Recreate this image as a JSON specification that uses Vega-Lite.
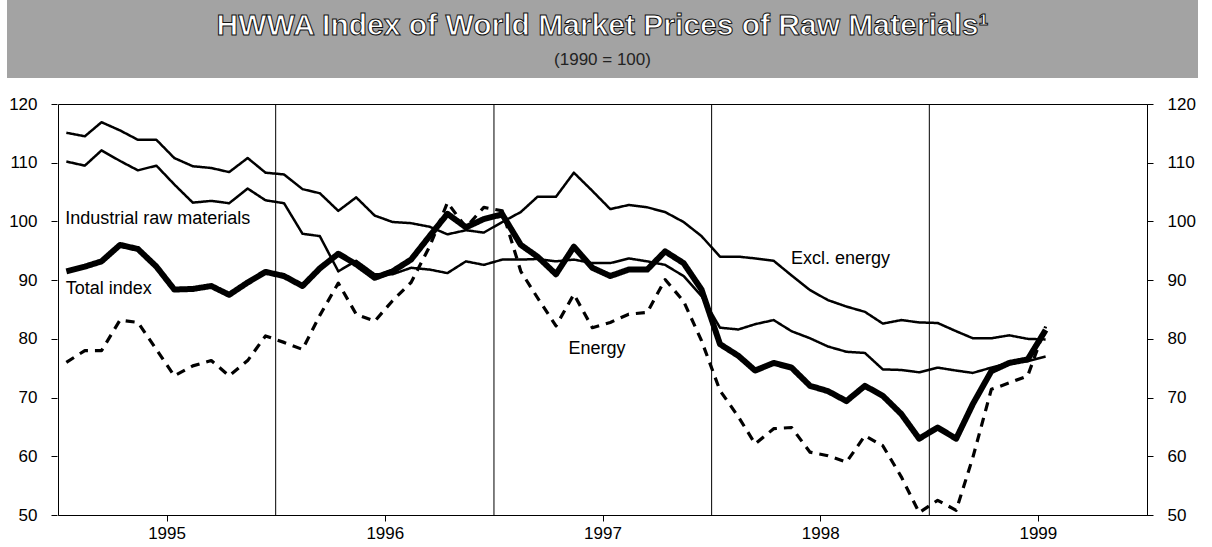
{
  "$schema": "https://vega.github.io/schema/vega-lite/v6.json",
  "padding": {"left": 7, "top": 0, "right": 4, "bottom": 0},
  "background": "white",
  "spacing": 16,
  "config": {
    "font": "Liberation Sans",
    "view": {"stroke": "black", "strokeWidth": 1},
    "axis": {
      "domainColor": "black", "tickColor": "black", "labelColor": "black",
      "labelFont": "Liberation Sans", "labelFontSize": 17, "tickSize": 6,
      "grid": false
    }
  },
  "vconcat": [
    {
      "width": 1191,
      "height": 78,
      "view": {"fill": "#a3a3a3", "stroke": null},
      "data": {"values": [{"title": "HWWA Index of World Market Prices of Raw Materials¹", "sub": "(1990 = 100)"}]},
      "layer": [
        {
          "mark": {"type": "text", "fontSize": 30, "fontWeight": "bold", "fill": "white", "stroke": "#111", "strokeWidth": 1, "dy": -13, "baseline": "middle"},
          "encoding": {"text": {"field": "title"}}
        },
        {
          "mark": {"type": "text", "fontSize": 17, "fill": "#222", "dy": 21, "baseline": "middle"},
          "encoding": {"text": {"field": "sub"}}
        }
      ]
    },
    {
      "spacing": -3,
      "hconcat": [
        {
          "width": 50,
          "height": 411,
          "view": {"stroke": null},
          "data": {"values": [{"v": 50}, {"v": 120}]},
          "mark": {"type": "point", "opacity": 0},
          "encoding": {
            "y": {"field": "v", "type": "quantitative", "title": null,
                  "scale": {"domain": [50, 120], "nice": false, "zero": false},
                  "axis": {"orient": "left", "offset": -50, "domain": false, "values": [50, 60, 70, 80, 90, 100, 110, 120], "labelPadding": 14}}
          }
        },
        {
          "width": 1089,
          "height": 411,
          "layer": [
            {
              "data": {"values": [{"d": "1996-01-01"}, {"d": "1997-01-01"}, {"d": "1998-01-01"}, {"d": "1999-01-01"}]},
              "mark": {"type": "rule", "color": "black", "strokeWidth": 1},
              "encoding": {
                "x": {"field": "d", "type": "temporal", "title": null,
                      "scale": {"type": "utc", "domain": [{"year": 1995, "month": 1, "date": 1, "utc": true}, {"year": 2000, "month": 1, "date": 1, "utc": true}]},
                      "axis": {
                        "values": [
                          {"year": 1995, "month": 7, "date": 2, "utc": true},
                          {"year": 1996, "month": 7, "date": 2, "utc": true},
                          {"year": 1997, "month": 7, "date": 2, "utc": true},
                          {"year": 1998, "month": 7, "date": 2, "utc": true},
                          {"year": 1999, "month": 7, "date": 2, "utc": true}
                        ],
                        "labelExpr": "utcFormat(datum.value, '%Y')",
                        "labelPadding": 4, "labelFlush": false, "labelOverlap": false
                      }}
              }
            },
            {
              "data": {"values": [
                {"d": "1995-01-15", "T": 91.5, "E": 115.1, "I": 110.2, "N": 76.0},
                {"d": "1995-02-15", "T": 92.3, "E": 114.5, "I": 109.5, "N": 78.0},
                {"d": "1995-03-15", "T": 93.2, "E": 116.9, "I": 112.1, "N": 78.0},
                {"d": "1995-04-15", "T": 96.0, "E": 115.5, "I": 110.3, "N": 83.2},
                {"d": "1995-05-15", "T": 95.3, "E": 113.9, "I": 108.7, "N": 82.8},
                {"d": "1995-06-15", "T": 92.3, "E": 113.9, "I": 109.5, "N": 78.2},
                {"d": "1995-07-15", "T": 88.4, "E": 110.8, "I": 106.3, "N": 73.7},
                {"d": "1995-08-15", "T": 88.5, "E": 109.4, "I": 103.2, "N": 75.4},
                {"d": "1995-09-15", "T": 89.0, "E": 109.1, "I": 103.5, "N": 76.3},
                {"d": "1995-10-15", "T": 87.5, "E": 108.4, "I": 103.1, "N": 73.7},
                {"d": "1995-11-15", "T": 89.6, "E": 110.8, "I": 105.6, "N": 76.3},
                {"d": "1995-12-15", "T": 91.4, "E": 108.3, "I": 103.6, "N": 80.5},
                {"d": "1996-01-15", "T": 90.7, "E": 108.0, "I": 103.1, "N": 79.4},
                {"d": "1996-02-15", "T": 89.0, "E": 105.5, "I": 97.9, "N": 78.2},
                {"d": "1996-03-15", "T": 92.0, "E": 104.8, "I": 97.5, "N": 84.0},
                {"d": "1996-04-15", "T": 94.5, "E": 101.8, "I": 91.5, "N": 89.5},
                {"d": "1996-05-15", "T": 92.7, "E": 104.1, "I": 93.3, "N": 84.2},
                {"d": "1996-06-15", "T": 90.4, "E": 101.0, "I": 91.0, "N": 83.0},
                {"d": "1996-07-15", "T": 91.5, "E": 99.9, "I": 91.0, "N": 86.5},
                {"d": "1996-08-15", "T": 93.5, "E": 99.7, "I": 92.1, "N": 89.6},
                {"d": "1996-09-15", "T": 97.5, "E": 99.1, "I": 91.8, "N": 95.7},
                {"d": "1996-10-15", "T": 101.3, "E": 97.8, "I": 91.2, "N": 103.2},
                {"d": "1996-11-15", "T": 99.0, "E": 98.5, "I": 93.2, "N": 99.0},
                {"d": "1996-12-15", "T": 100.4, "E": 98.1, "I": 92.6, "N": 102.4},
                {"d": "1997-01-15", "T": 101.2, "E": 99.9, "I": 93.5, "N": 101.8},
                {"d": "1997-02-15", "T": 96.0, "E": 101.6, "I": 93.5, "N": 91.5},
                {"d": "1997-03-15", "T": 94.0, "E": 104.2, "I": 93.6, "N": 87.0},
                {"d": "1997-04-15", "T": 91.0, "E": 104.2, "I": 93.2, "N": 82.2},
                {"d": "1997-05-15", "T": 95.7, "E": 108.3, "I": 93.5, "N": 87.6},
                {"d": "1997-06-15", "T": 92.1, "E": 105.2, "I": 92.9, "N": 81.9},
                {"d": "1997-07-15", "T": 90.7, "E": 102.1, "I": 92.9, "N": 82.8},
                {"d": "1997-08-15", "T": 91.8, "E": 102.8, "I": 93.7, "N": 84.2},
                {"d": "1997-09-15", "T": 91.8, "E": 102.4, "I": 93.2, "N": 84.5},
                {"d": "1997-10-15", "T": 94.9, "E": 101.6, "I": 92.6, "N": 90.1},
                {"d": "1997-11-15", "T": 92.9, "E": 99.9, "I": 90.7, "N": 86.4},
                {"d": "1997-12-15", "T": 88.4, "E": 97.5, "I": 87.3, "N": 79.7},
                {"d": "1998-01-15", "T": 79.1, "E": 94.0, "I": 81.9, "N": 71.2},
                {"d": "1998-02-15", "T": 77.1, "E": 94.0, "I": 81.6, "N": 66.7},
                {"d": "1998-03-15", "T": 74.6, "E": 93.7, "I": 82.5, "N": 62.1},
                {"d": "1998-04-15", "T": 75.9, "E": 93.3, "I": 83.2, "N": 64.7},
                {"d": "1998-05-15", "T": 75.1, "E": 90.8, "I": 81.3, "N": 64.9},
                {"d": "1998-06-15", "T": 72.0, "E": 88.3, "I": 80.1, "N": 60.7},
                {"d": "1998-07-15", "T": 71.1, "E": 86.6, "I": 78.7, "N": 60.1},
                {"d": "1998-08-15", "T": 69.4, "E": 85.5, "I": 77.8, "N": 59.0},
                {"d": "1998-09-15", "T": 72.0, "E": 84.6, "I": 77.6, "N": 63.5},
                {"d": "1998-10-15", "T": 70.3, "E": 82.6, "I": 74.8, "N": 61.8},
                {"d": "1998-11-15", "T": 67.2, "E": 83.2, "I": 74.7, "N": 56.5},
                {"d": "1998-12-15", "T": 63.0, "E": 82.8, "I": 74.3, "N": 50.4},
                {"d": "1999-01-15", "T": 64.9, "E": 82.7, "I": 75.1, "N": 52.5},
                {"d": "1999-02-15", "T": 63.0, "E": 81.3, "I": 74.6, "N": 50.8},
                {"d": "1999-03-15", "T": 68.9, "E": 80.1, "I": 74.2, "N": 59.8},
                {"d": "1999-04-15", "T": 74.5, "E": 80.1, "I": 75.1, "N": 71.4},
                {"d": "1999-05-15", "T": 75.9, "E": 80.6, "I": 75.9, "N": 72.5},
                {"d": "1999-06-15", "T": 76.5, "E": 80.0, "I": 76.2, "N": 73.7},
                {"d": "1999-07-15", "T": 81.5, "E": 79.9, "I": 77.0, "N": 82.1}
              ]},
              "transform": [{"fold": ["N", "E", "I", "T"], "as": ["key", "value"]}],
              "mark": {"type": "line", "color": "black", "strokeJoin": "round", "strokeCap": "butt"},
              "encoding": {
                "x": {"field": "d", "type": "temporal", "title": null,
                      "scale": {"type": "utc", "domain": [{"year": 1995, "month": 1, "date": 1, "utc": true}, {"year": 2000, "month": 1, "date": 1, "utc": true}]},
                      "axis": {
                        "values": [
                          {"year": 1995, "month": 7, "date": 2, "utc": true},
                          {"year": 1996, "month": 7, "date": 2, "utc": true},
                          {"year": 1997, "month": 7, "date": 2, "utc": true},
                          {"year": 1998, "month": 7, "date": 2, "utc": true},
                          {"year": 1999, "month": 7, "date": 2, "utc": true}
                        ],
                        "labelExpr": "utcFormat(datum.value, '%Y')",
                        "labelPadding": 4, "labelFlush": false, "labelOverlap": false
                      }},
                "y": {"field": "value", "type": "quantitative", "title": null,
                      "scale": {"domain": [50, 120], "nice": false, "zero": false},
                      "axis": {"orient": "right", "values": [50, 60, 70, 80, 90, 100, 110, 120], "labelPadding": 14}},
                "detail": {"field": "key"},
                "strokeWidth": {"field": "key", "type": "nominal", "legend": null,
                                "scale": {"type": "ordinal", "domain": ["T", "E", "I", "N"], "range": [6, 2.5, 2.5, 3.2]}},
                "strokeDash": {"field": "key", "type": "nominal", "legend": null,
                               "scale": {"type": "ordinal", "domain": ["T", "E", "I", "N"], "range": [[1, 0], [1, 0], [1, 0], [9, 7]]}}
              }
            },
            {
              "data": {"values": [
                {"label": "Industrial raw materials", "d": "1995-01-13", "v": 100.4},
                {"label": "Total index", "d": "1995-01-14", "v": 88.5},
                {"label": "Energy", "d": "1997-05-06", "v": 78.3},
                {"label": "Excl. energy", "d": "1998-05-14", "v": 93.6}
              ]},
              "mark": {"type": "text", "align": "left", "baseline": "middle", "fontSize": 18, "color": "black"},
              "encoding": {
                "x": {"field": "d", "type": "temporal", "title": null,
                      "scale": {"type": "utc", "domain": [{"year": 1995, "month": 1, "date": 1, "utc": true}, {"year": 2000, "month": 1, "date": 1, "utc": true}]},
                      "axis": {
                        "values": [
                          {"year": 1995, "month": 7, "date": 2, "utc": true},
                          {"year": 1996, "month": 7, "date": 2, "utc": true},
                          {"year": 1997, "month": 7, "date": 2, "utc": true},
                          {"year": 1998, "month": 7, "date": 2, "utc": true},
                          {"year": 1999, "month": 7, "date": 2, "utc": true}
                        ],
                        "labelExpr": "utcFormat(datum.value, '%Y')",
                        "labelPadding": 4, "labelFlush": false, "labelOverlap": false
                      }},
                "y": {"field": "v", "type": "quantitative", "title": null,
                      "scale": {"domain": [50, 120], "nice": false, "zero": false},
                      "axis": {"orient": "right", "values": [50, 60, 70, 80, 90, 100, 110, 120], "labelPadding": 14}},
                "text": {"field": "label"}
              }
            }
          ]
        }
      ]
    }
  ]
}
